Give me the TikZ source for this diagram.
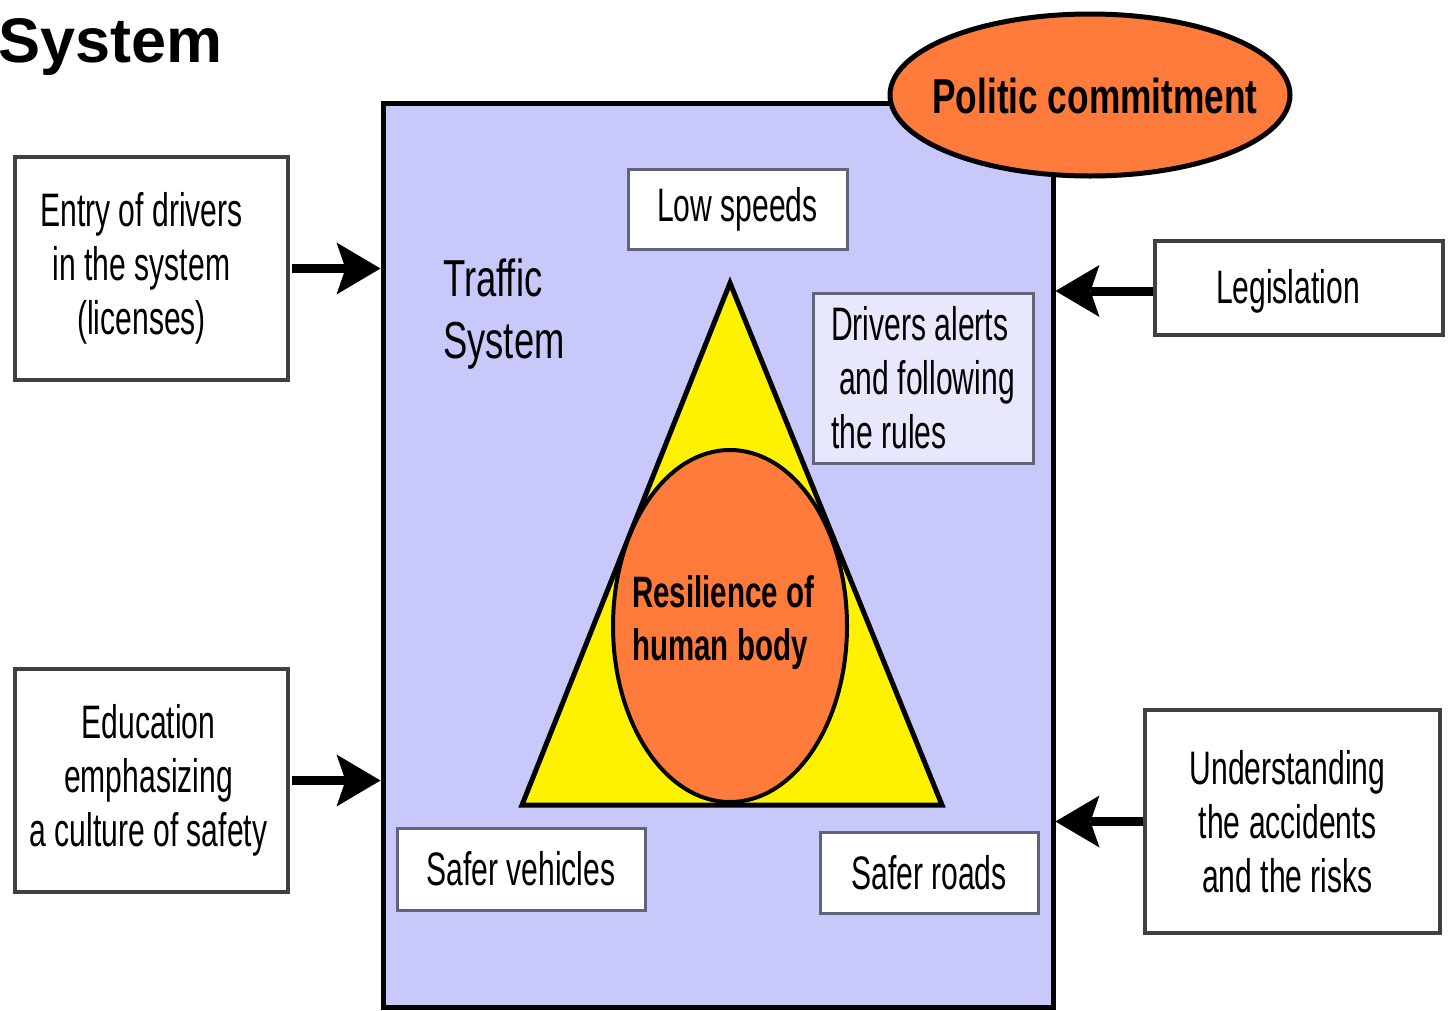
\documentclass[tikz,border=0pt]{standalone}
\usepackage{fontspec}
\setmainfont{Liberation Sans}
\newfontfamily\cond[FakeStretch=0.64]{Liberation Sans}
\newfontfamily\condw[FakeStretch=0.70]{Liberation Sans}
\newfontfamily\condr[FakeStretch=0.67]{Liberation Sans}
\newfontfamily\condb[FakeStretch=0.72]{Liberation Sans}
\usetikzlibrary{arrows.meta,shapes.geometric}
\definecolor{lav}{HTML}{C8C8FA}
\definecolor{lavlight}{HTML}{E8E8FC}
\definecolor{orng}{HTML}{FF7B3B}
\definecolor{boxgrey}{HTML}{404040}
\definecolor{innergrey}{HTML}{62627A}
\begin{document}
\begin{tikzpicture}[x=1pt,y=-1pt,
  txt/.style={font=\cond\fontsize{47}{54}\selectfont, text=black},
  outerbox/.style={draw=boxgrey, line width=4pt, fill=white, inner sep=0pt},
  boxtext/.style={inner sep=0pt, align=center, txt},
  innerbox/.style={draw=innergrey, line width=3pt, fill=white, inner sep=0pt, align=center, txt},
  bigarrow/.style={line width=9pt, -{Stealth[length=44pt,width=52pt,inset=9pt,line width=0pt]}}
]
\useasboundingbox (0,0) rectangle (1448,1010);

% title
\node[anchor=base west, inner sep=0pt, font=\fontsize{63}{70}\selectfont\bfseries] (title) at (-2,62) {System};

% main system box
\node[draw=black, line width=5pt, fill=lav, minimum width=670pt, minimum height=904pt, inner sep=0pt] (main) at (718,555) {};

% politic commitment ellipse
\node[ellipse, draw=black, line width=5pt, fill=orng, minimum width=400pt, minimum height=162pt, inner sep=0pt] (pol) at (1090,95) {};
\node[inner sep=0pt, font=\condb\fontsize{49}{56}\selectfont\bfseries] (poltxt) at (1095,96) {Politic commitment};

% triangle
\coordinate (tA) at (730,283);
\coordinate (tB) at (942,805);
\coordinate (tC) at (522,805);
\draw[fill=yellow, line width=5pt, line join=miter] (tA) -- (tB) -- (tC) -- cycle;

% inner ellipse
\node[ellipse, draw=black, line width=4pt, fill=orng, minimum width=234pt, minimum height=352pt, inner sep=0pt] (res) at (730,626) {};
\node[anchor=west, inner sep=0pt, align=left, font=\condr\fontsize{44}{53}\selectfont\bfseries] (restxt) at (632,623) {Resilience of\\human body};

% traffic system label
\node[anchor=west, inner sep=0pt, align=left, font=\condw\fontsize{52}{62}\selectfont] (traffic) at (443,314) {Traffic\\System};

% inner boxes
\node[innerbox, minimum width=219pt, minimum height=80pt] (low) at (737.5,209) {Low speeds};
\node[innerbox, fill=lavlight, minimum width=220pt, minimum height=170pt, align=left] (drv) at (923,378) {Drivers alerts\\\hspace*{8pt}and following\\the rules};
\node[innerbox, minimum width=248pt, minimum height=82pt] (sv) at (521,869) {Safer vehicles};
\node[innerbox, minimum width=218pt, minimum height=81pt] (sr) at (929,872.5) {Safer roads};

% outer boxes
\node[outerbox, minimum width=273pt, minimum height=223pt] (entry) at (151.5,268.5) {};
\node[boxtext] (entrytxt) at ([xshift=-10pt]entry.center) {Entry of drivers\\in the system\\(licenses)};
\node[outerbox, minimum width=273pt, minimum height=223pt] (edu) at (151.5,780.5) {};
\node[boxtext] (edutxt) at ([xshift=-3pt]edu.center) {Education\\emphasizing\\a culture of safety};
\node[outerbox, minimum width=288pt, minimum height=94pt] (leg) at (1299,288) {};
\node[boxtext] (legtxt) at ([xshift=-11pt,yshift=-3pt]leg.center) {Legislation};
\node[outerbox, minimum width=295pt, minimum height=223pt] (und) at (1292.5,821.5) {};
\node[boxtext] (undtxt) at ([xshift=-5pt]und.center) {Understanding\\the accidents\\and the risks};

% arrows
\draw[bigarrow, shorten <=2pt] (entry.east) -- (entry.east -| main.west);
\draw[bigarrow, shorten <=2pt] (edu.east) -- (edu.east -| main.west);
\draw[bigarrow] ([yshift=-3pt]leg.west) -- ([yshift=-3pt]leg.west -| main.east);
\draw[bigarrow] (und.west) -- (und.west -| main.east);
\end{tikzpicture}
\end{document}
